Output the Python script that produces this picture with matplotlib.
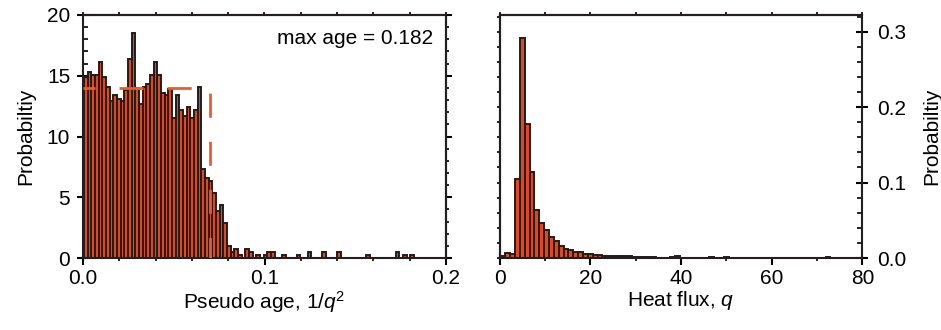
import matplotlib
matplotlib.use("Agg")
import matplotlib.pyplot as plt
import numpy as np
from matplotlib.ticker import MultipleLocator, FormatStrFormatter

plt.rcParams['font.family'] = ['Liberation Sans', 'DejaVu Sans']
plt.rcParams['font.size'] = 15
plt.rcParams['mathtext.fontset'] = 'custom'
plt.rcParams['mathtext.rm'] = 'Liberation Sans'
plt.rcParams['mathtext.it'] = 'Liberation Sans:italic'
plt.rcParams['lines.scale_dashes'] = False

# pseudo age histogram (density), 90 bins
age_start = 0.0006
age_width = 0.00202
age_density = [
    14.87, 15.3, 15.1, 15.1, 16.1, 14.87, 14.1, 12.9, 13.4, 13.1,
    12.9, 13.8, 16.35, 18.5, 13.97, 12.7, 14.1, 14.3, 15.06, 16.1,
    15.06, 13.6, 13.4, 13.9, 11.5, 13.4, 12.2, 11.7, 12.4, 11.5,
    12.2, 14.1, 7.3, 6.56, 6.34, 5.37, 3.9, 4.36, 2.9, 0.99,
    0.5, 0.74, 0.25, 0, 0.74, 0.5, 0, 0.25, 0, 0.25,
    0.5, 0.5, 0, 0, 0.25, 0, 0, 0, 0.25, 0,
    0, 0.5, 0, 0, 0, 0.5, 0, 0, 0, 0.5,
    0, 0, 0, 0, 0, 0, 0, 0.25, 0, 0,
    0, 0, 0, 0, 0, 0.5, 0, 0.25, 0, 0.25,
]
max_age = 0.182

# uniform reference (dashed)
uniform_x = [0.0, 0.0702, 0.0702]
uniform_y = [14.0, 14.0, 0.0]

# heat flux histogram (density), 75 bins
q_start = 0.2
q_width = 1.07
q_density = [
    0.002, 0.006, 0.005, 0.105, 0.292, 0.178, 0.114, 0.063, 0.046, 0.037,
    0.028, 0.022, 0.016, 0.012, 0.010, 0.008, 0.008, 0.005, 0.005, 0.004,
    0.004, 0.003, 0.003, 0.003, 0.002, 0.002, 0.002, 0.0015, 0.0015, 0.001,
    0.0015, 0.001, 0.0005, 0.0, 0.0005, 0.001, 0.002, 0.0005, 0.0, 0.0,
    0.0005, 0.0, 0.0, 0.0015, 0.0, 0.0005, 0.001, 0.0, 0.0, 0.0,
    0.0, 0.0, 0.0, 0.0, 0.0, 0.0, 0.0, 0.0, 0.0, 0.0,
    0.0, 0.0, 0.0, 0.0, 0.0, 0.0, 0.0, 0.001, 0.0, 0.0,
    0.0, 0.0, 0.0, 0.0, 0.0,
]

fill = '#e5461c'
edge = '#241c1c'
dash_col = '#f05a2a'
spine_w = 1.5

fig = plt.figure(figsize=(9.41, 3.30), dpi=100)
ax1 = fig.add_axes([83 / 941, 72 / 330, 363 / 941, 243 / 330])
ax2 = fig.add_axes([499.6 / 941, 72 / 330, 362.8 / 941, 243 / 330])

age_left = age_start + age_width * np.arange(len(age_density))
ax1.bar(age_left, age_density, width=age_width, align='edge',
        color=fill, edgecolor=edge, linewidth=1.4, zorder=2)
ax1.plot(uniform_x, uniform_y, color=dash_col, lw=2.0,
         linestyle=(8.6, (17.3, 17.3)), dash_capstyle='butt', zorder=3)

q_left = q_start + q_width * np.arange(len(q_density))
ax2.bar(q_left, q_density, width=q_width, align='edge',
        color=fill, edgecolor=edge, linewidth=1.4, zorder=2)

for ax in (ax1, ax2):
    for s in ax.spines.values():
        s.set_linewidth(spine_w)
        s.set_color('#231f20')

# left panel
ax1.set_xlim(0, 0.2)
ax1.set_ylim(0, 20)
ax1.xaxis.set_major_locator(MultipleLocator(0.1))
ax1.xaxis.set_minor_locator(MultipleLocator(0.02))
ax1.xaxis.set_major_formatter(FormatStrFormatter('%.1f'))
ax1.yaxis.set_major_locator(MultipleLocator(5))
ax1.yaxis.set_minor_locator(MultipleLocator(1))
ax1.tick_params(axis='x', which='major', direction='out', length=5, width=1.5, pad=3)
ax1.tick_params(axis='x', which='minor', direction='out', length=2.5, width=1.2)
ax1.tick_params(axis='y', which='major', direction='inout', length=8.5, width=1.5, pad=5)
ax1.tick_params(axis='y', which='minor', direction='in', length=3.5, width=1.2)
ax1.set_xlabel('Pseudo age, 1/$q^2$', labelpad=1)
ax1.set_ylabel('Probabiltiy', labelpad=8)
ax1.text(0.965, 0.905, 'max age = %.3f' % max_age, transform=ax1.transAxes,
         ha='right', va='center')

top1 = ax1.secondary_xaxis('top')
top1.xaxis.set_major_locator(MultipleLocator(0.02))
top1.tick_params(direction='out', length=2, width=1.2, labeltop=False)
top1.spines['top'].set_linewidth(spine_w)
right1 = ax1.secondary_yaxis('right')
right1.yaxis.set_major_locator(MultipleLocator(5))
right1.yaxis.set_minor_locator(MultipleLocator(1))
right1.tick_params(which='major', direction='out', length=4.5, width=1.5, labelright=False)
right1.tick_params(which='minor', direction='out', length=2.5, width=1.2)
right1.spines['right'].set_linewidth(spine_w)

# right panel
ax2.set_xlim(0, 80)
ax2.set_ylim(0, 0.322)
ax2.xaxis.set_major_locator(MultipleLocator(20))
ax2.xaxis.set_minor_locator(MultipleLocator(10))
ax2.yaxis.set_major_locator(MultipleLocator(0.1))
ax2.yaxis.set_minor_locator(MultipleLocator(0.02))
ax2.yaxis.set_major_formatter(FormatStrFormatter('%.1f'))
ax2.yaxis.tick_right()
ax2.yaxis.set_label_position('right')
ax2.tick_params(axis='x', which='major', direction='out', length=5, width=1.5, pad=3)
ax2.tick_params(axis='x', which='minor', direction='out', length=2.5, width=1.2)
ax2.tick_params(axis='y', which='major', direction='inout', length=8.5, width=1.5, pad=6)
ax2.tick_params(axis='y', which='minor', direction='in', length=3.5, width=1.2)
ax2.set_xlabel('Heat flux, $q$', labelpad=1)
ax2.set_ylabel('Probabiltiy', labelpad=12)

top2 = ax2.secondary_xaxis('top')
top2.xaxis.set_major_locator(MultipleLocator(10))
top2.tick_params(direction='out', length=2, width=1.2, labeltop=False)
top2.spines['top'].set_linewidth(spine_w)
left2 = ax2.secondary_yaxis('left')
left2.yaxis.set_major_locator(MultipleLocator(0.02))
left2.tick_params(direction='out', length=2.5, width=1.2, labelleft=False)
left2.spines['left'].set_linewidth(spine_w)

fig.savefig('out.png', dpi=100)
